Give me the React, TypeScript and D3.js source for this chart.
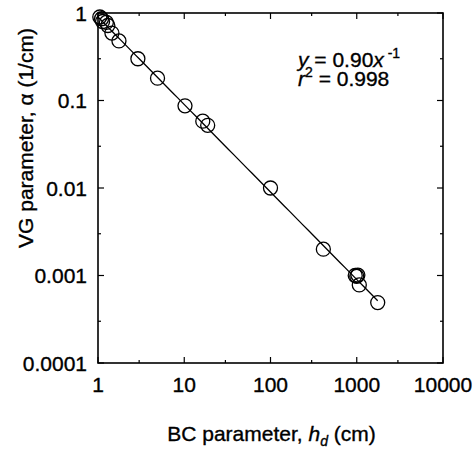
import React from "react";
import * as d3 from "d3";

// BC parameter h_d (cm) and VG parameter alpha (1/cm)
const hdValues = [1.05, 1.1, 1.13, 1.25, 1.3, 1.45, 1.75, 2.9, 4.9, 10.2, 16.4, 18.7, 100, 410, 960, 1000, 1030, 1070, 1750];
const alphaValues = [0.9, 0.86, 0.8, 0.78, 0.72, 0.59, 0.48, 0.3, 0.18, 0.087, 0.058, 0.052, 0.01, 0.002, 0.001, 0.00098, 0.00101, 0.00078, 0.00049];

const fitCoef = 0.9;
const fitRange = [1, 1750];

const xMajor = [1, 10, 100, 1000, 10000];
const xMinor = [3, 30, 300, 3000];
const xTickLabels = ["1", "10", "100", "1000", "10000"];
const yMajor = [1, 0.1, 0.01, 0.001, 0.0001];
const yMinor = [0.3, 0.03, 0.003, 0.0003];
const yTickLabels = ["1", "0.1", "0.01", "0.001", "0.0001"];

const width = 476;
const height = 455;
const margin = { top: 13, right: 33, bottom: 92, left: 98 };
const font = "'Liberation Sans', Arial, sans-serif";

export default function App() {
    const x = d3.scaleLog().domain([1, 10000]).range([margin.left, width - margin.right]);
    const y = d3.scaleLog().domain([0.0001, 1]).range([height - margin.bottom, margin.top]);
    const x0 = margin.left;
    const x1 = width - margin.right;
    const y0 = height - margin.bottom;
    const y1 = margin.top;

    const fitData = d3.range(0, 61).map((i) => {
        const v = fitRange[0] * Math.pow(fitRange[1] / fitRange[0], i / 60);
        return [v, fitCoef / v];
    });
    const line = d3
        .line<number[]>()
        .x((d) => x(d[0]))
        .y((d) => y(d[1]));

    const majLen = 6;
    const minLen = 3;
    // scanned text looks a bit heavier than plain Liberation Sans
    const textWeight = { stroke: "#000", strokeWidth: 0.35 };

    return (
        <svg width={width} height={height} style={{ position: "absolute", left: 0, top: 0, background: "#fff" }} fontFamily={font}>
            <rect x={x0} y={y1} width={x1 - x0} height={y0 - y1} fill="none" stroke="#000" strokeWidth={1.6} />

            {/* ticks, inward on all four sides */}
            {xMajor.concat(xMinor).map((t, i) => {
                const len = i < xMajor.length ? majLen : minLen;
                return (
                    <g key={"xt" + t} stroke="#000" strokeWidth={1.2}>
                        <line x1={x(t)} x2={x(t)} y1={y0} y2={y0 - len} />
                        <line x1={x(t)} x2={x(t)} y1={y1} y2={y1 + len} />
                    </g>
                );
            })}
            {yMajor.concat(yMinor).map((t, i) => {
                const len = i < yMajor.length ? majLen : minLen;
                return (
                    <g key={"yt" + t} stroke="#000" strokeWidth={1.2}>
                        <line x1={x0} x2={x0 + len} y1={y(t)} y2={y(t)} />
                        <line x1={x1} x2={x1 - len} y1={y(t)} y2={y(t)} />
                    </g>
                );
            })}

            <g {...textWeight}>
                {/* tick labels */}
                {xMajor.map((t, i) => (
                    <text key={"xl" + t} x={x(t)} y={y0 + 29} fontSize={21} textAnchor="middle">
                        {xTickLabels[i]}
                    </text>
                ))}
                {yMajor.map((t, i) => (
                    <text key={"yl" + t} x={x0 - 11} y={y(t)} dy="0.36em" fontSize={21} textAnchor="end">
                        {yTickLabels[i]}
                    </text>
                ))}

                {/* equation */}
                <text x={298} y={67} fontSize={21}>
                    <tspan fontStyle="italic">y</tspan>
                    <tspan>{" = 0.90"}</tspan>
                    <tspan fontStyle="italic">x</tspan>
                    <tspan fontSize={14} dy={-9}>{" -1"}</tspan>
                </text>
                <text x={298} y={86} fontSize={21}>
                    <tspan fontStyle="italic">r</tspan>
                    <tspan fontSize={14} dy={-9}>2</tspan>
                    <tspan dy={9}>{" = 0.998"}</tspan>
                </text>

                {/* axis titles */}
                <text x={(x0 + x1) / 2 + 1} y={441} fontSize={21} textAnchor="middle">
                    <tspan>{"BC parameter, "}</tspan>
                    <tspan fontStyle="italic">h</tspan>
                    <tspan fontStyle="italic" fontSize={14} dy={5}>d</tspan>
                    <tspan dy={-5}>{" (cm)"}</tspan>
                </text>
                <text transform={`translate(33,${138}) rotate(-90)`} fontSize={21} textAnchor="middle">
                    VG parameter, α (1/cm)
                </text>
            </g>

            {/* fitted power law */}
            <path d={line(fitData) || ""} fill="none" stroke="#000" strokeWidth={1.3} />

            {hdValues.map((h, i) => (
                <circle key={"p" + i} cx={x(h)} cy={y(alphaValues[i])} r={7} fill="none" stroke="#000" strokeWidth={1.3} />
            ))}
        </svg>
    );
}
